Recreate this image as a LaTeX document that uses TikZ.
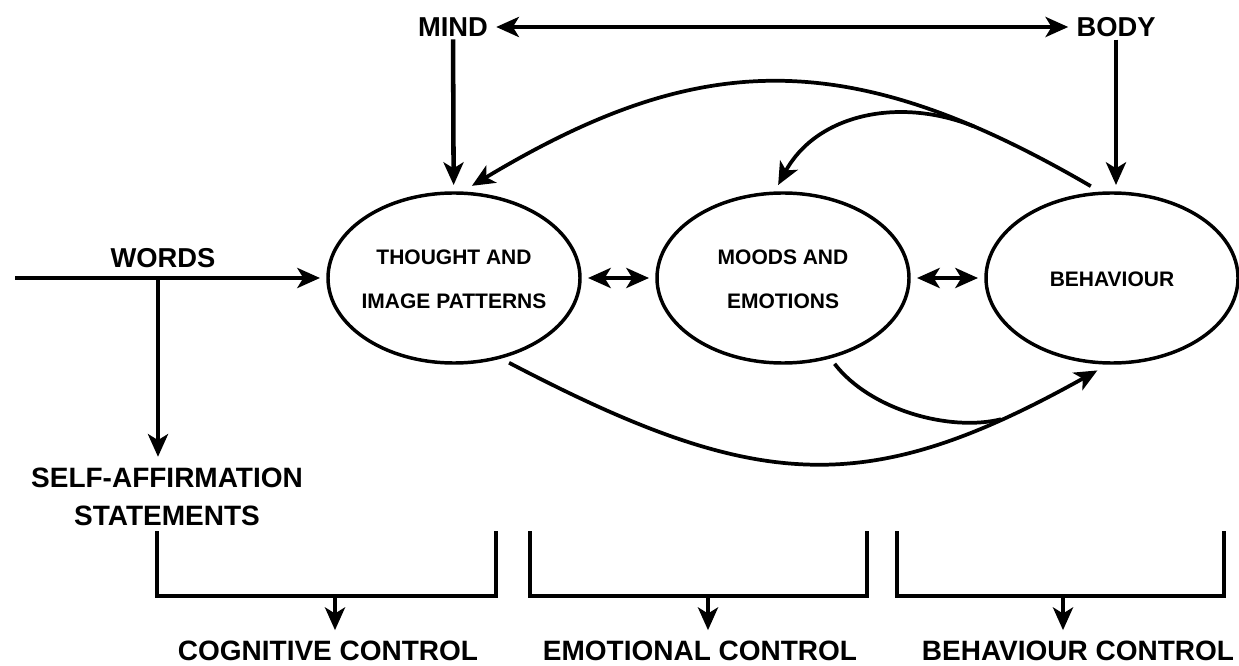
\documentclass[tikz,border=0pt]{standalone}
\usepackage{fontspec}
\setmainfont{Liberation Sans}
\usetikzlibrary{arrows.meta,shapes.geometric}
\newcommand{\ovaltext}[1]{\makebox[0pt]{\begin{tabular}{@{}c@{}}#1\end{tabular}}}
\renewcommand{\arraystretch}{1.83}

\begin{document}
\begin{tikzpicture}[x=0.75pt,y=-0.75pt,
    >={Stealth[length=17pt,width=15pt,inset=4.5pt]},
    big/.style={font=\fontsize{20.5}{28}\selectfont\bfseries, inner xsep=6pt, inner ysep=2pt},
    state/.style={ellipse, draw, line width=2.6pt, minimum width=189pt, minimum height=127.5pt,
      inner sep=0pt, outer sep=6pt, font=\fontsize{15.75}{18}\selectfont\bfseries},
    ctrl/.style={font=\fontsize{21}{24}\selectfont\bfseries, inner ysep=8pt},
    link/.style={line width=3.4pt},
    curve/.style={line width=2.8pt},
    bracket/.style={line width=2.6pt}]
  \useasboundingbox (0,0) rectangle (1239,666);

  \node[big] (mind) at (453,27) {MIND};
  \node[big] (body) at (1116,27) {BODY};
  \node[big] (words) at (163,258) {WORDS};
  \node[state] (thought) at (454,278) {\ovaltext{THOUGHT AND\\IMAGE PATTERNS}};
  \node[state] (moods) at (783,278) {\ovaltext{MOODS AND\\EMOTIONS}};
  \node[state] (behav) at (1112,278) {\ovaltext{BEHAVIOUR}};
  \node[big, align=center, inner ysep=3pt, font=\fontsize{21}{28}\selectfont\bfseries] (affirm) at (167,497) {SELF-AFFIRMATION\\STATEMENTS};
  \node[ctrl] (cog) at (328,651) {COGNITIVE CONTROL};
  \node[ctrl] (emo) at (700,651) {EMOTIONAL CONTROL};
  \node[ctrl] (beh) at (1078,651) {BEHAVIOUR CONTROL};

  \coordinate (start) at (15,278);
  \coordinate (split) at (158,278);

  \draw[link,<->] (mind) -- (body);
  \draw[link,->] (mind) -- (thought);
  \draw[link,->] (body) -- (body |- behav.north);
  \draw[link,->] (start) -- (thought);
  \draw[link,->,shorten >=5.5pt] (split) -- (split |- affirm.north);
  \draw[link,<->] (thought) -- (moods);
  \draw[link,<->] (moods) -- (behav);

  \draw[curve,->] (behav.103) .. controls (847,44) and (698,50) .. (thought.79) coordinate[pos=0.17] (branch);
  \draw[curve,->] (branch) .. controls (898,96) and (816,115) .. (moods.93);
  \draw[curve,->] (thought.-57) .. controls (758,493) and (867,499) .. (behav.-99) coordinate[pos=0.85] (merge);
  \draw[curve] (moods.-59) .. controls (870,410) and (950,432) .. (merge);

  \foreach \l/\r/\m/\t in {157/496/335/cog, 530/867/708/emo, 897/1224/1063/beh} {
    \draw[bracket] (\l,531) |- (\r,596) -- (\r,531);
    \coordinate (join) at (\m,596);
    \draw[link,->] (join) -- (join |- \t.north);
  }
\end{tikzpicture}
\end{document}
